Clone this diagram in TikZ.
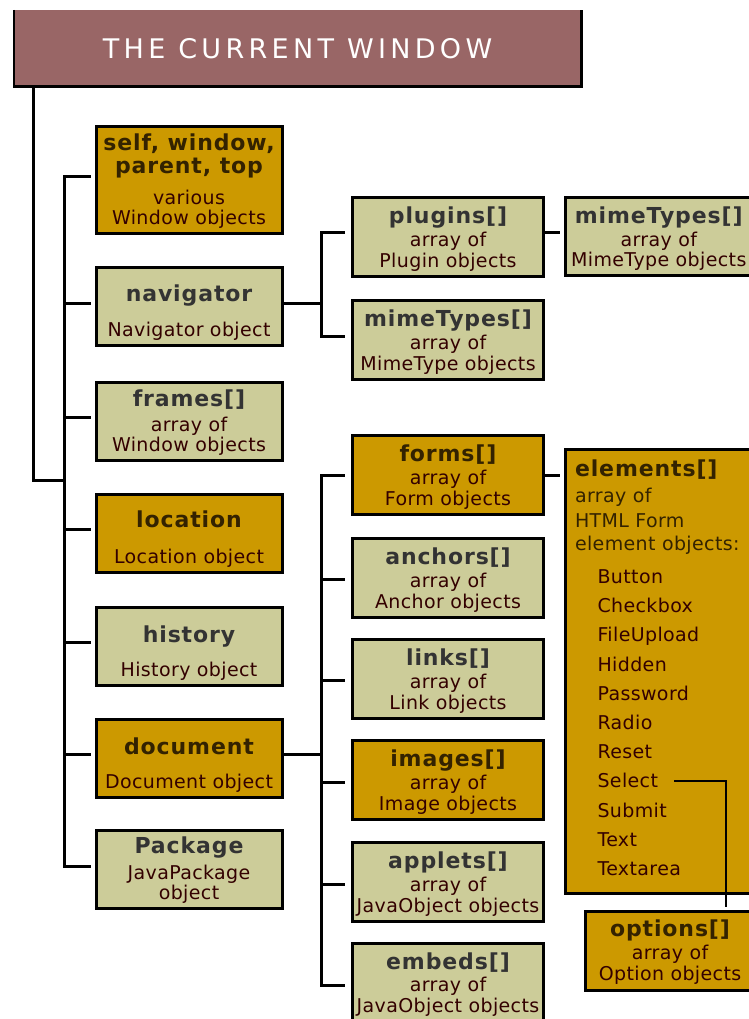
\documentclass[tikz,border=0pt]{standalone}
\usepackage{fontspec}
\setmainfont{DejaVu Sans}
\newfontfamily\titlefont{DejaVu Sans}[LetterSpace=16]
\newfontfamily\headfont{DejaVu Sans}[LetterSpace=4]
\newfontfamily\bodyfont{DejaVu Sans}[LetterSpace=2]
\definecolor{gold}{HTML}{CC9900}
\definecolor{khaki}{HTML}{CCCC99}
\definecolor{rose}{HTML}{996666}
\definecolor{inkgray}{HTML}{333333}
\definecolor{inkbrown}{HTML}{332200}
\definecolor{inkred}{HTML}{330000}
\newcommand\hdK[1]{{\headfont\bfseries\fontsize{22}{24}\selectfont\color{inkgray}#1}}
\newcommand\hdG[1]{{\headfont\bfseries\fontsize{22}{24}\selectfont\color{inkbrown}#1}}
\newcommand\bdR[1]{{\bodyfont\fontsize{19}{20}\selectfont\color{inkred}#1}}
\newcommand\bdB[1]{{\bodyfont\fontsize{19}{20}\selectfont\color{inkbrown}#1}}
\newcommand\lnC[2]{\vtop to 0pt{\vskip#1\hbox to\hsize{\hss\smash{#2}\hss}\vss}}
\newcommand\lnL[3]{\vtop to 0pt{\vskip#2\hbox to\hsize{\hskip#1\smash{#3}\hss}\vss}}
\newcommand\boxtxt[3]{\vbox to#2{\hsize=#1\offinterlineskip#3\vss}}
\tikzset{
  box/.style={draw=black, line width=3pt, inner sep=0pt, outer sep=0pt},
  kbox/.style={box, fill=khaki},
  gbox/.style={box, fill=gold},
  conn/.style={line width=3pt, line cap=rect},
  titlebox/.style={fill=rose, inner sep=0pt, outer sep=0pt, minimum width=567.5pt,
    minimum height=76.7pt, text=white, font=\titlefont\fontsize{27}{30}\selectfont},
}
\begin{document}
\begin{tikzpicture}[x=1pt,y=-1pt]
\useasboundingbox (0,0) rectangle (748,1019);
\fill[white] (0,0) rectangle (748,1019);

% title
\node[titlebox] (title) at (297.55,48.35) {THE CURRENT WINDOW};
\draw[line width=2.5pt] (title.north west) |- (title.south east) -- (title.north east);

% left column
\node[gbox] (self) at (189,180) {\boxtxt{186pt}{106pt}{%
  \lnC{23.7pt}{\hdG{self, window,}}%
  \lnC{46.3pt}{\hdG{parent, top}}%
  \lnC{77.3pt}{\bdR{various}}%
  \lnC{97.3pt}{\bdR{Window objects}}}};
\node[kbox] (nav) at (189,306) {\boxtxt{186pt}{78pt}{%
  \lnC{34.5pt}{\hdK{navigator}}%
  \lnC{69.5pt}{\bdR{Navigator object}}}};
\node[kbox] (frames) at (189,421) {\boxtxt{186pt}{78pt}{%
  \lnC{24.5pt}{\hdK{frames[]}}%
  \lnC{49.5pt}{\bdR{array of}}%
  \lnC{69.5pt}{\bdR{Window objects}}}};
\node[gbox] (loc) at (189,533) {\boxtxt{186pt}{78pt}{%
  \lnC{33.5pt}{\hdG{location}}%
  \lnC{69.5pt}{\bdR{Location object}}}};
\node[kbox] (hist) at (189,646) {\boxtxt{186pt}{78pt}{%
  \lnC{35pt}{\hdK{history}}%
  \lnC{69pt}{\bdR{History object}}}};
\node[gbox] (doc) at (189,758) {\boxtxt{186pt}{78pt}{%
  \lnC{35pt}{\hdG{document}}%
  \lnC{69.5pt}{\bdR{Document object}}}};
\node[kbox] (pkg) at (189,869.5) {\boxtxt{186pt}{78pt}{%
  \lnC{22.5pt}{\hdK{Package}}%
  \lnC{49pt}{\bdR{JavaPackage}}%
  \lnC{69pt}{\bdR{object}}}};

% middle column
\node[kbox] (plug) at (448,236.5) {\boxtxt{191pt}{79pt}{%
  \lnC{26pt}{\hdK{plugins[]}}%
  \lnC{49.5pt}{\bdR{array of}}%
  \lnC{70pt}{\bdR{Plugin objects}}}};
\node[kbox] (mimeb) at (448,339.5) {\boxtxt{191pt}{79pt}{%
  \lnC{26pt}{\hdK{mimeTypes[]}}%
  \lnC{49.5pt}{\bdR{array of}}%
  \lnC{70pt}{\bdR{MimeType objects}}}};
\node[gbox] (forms) at (448,475) {\boxtxt{191pt}{79pt}{%
  \lnC{26pt}{\hdG{forms[]}}%
  \lnC{49pt}{\bdR{array of}}%
  \lnC{70pt}{\bdR{Form objects}}}};
\node[kbox] (anch) at (448,578) {\boxtxt{191pt}{79pt}{%
  \lnC{26pt}{\hdK{anchors[]}}%
  \lnC{49pt}{\bdR{array of}}%
  \lnC{70pt}{\bdR{Anchor objects}}}};
\node[kbox] (links) at (448,679) {\boxtxt{191pt}{79pt}{%
  \lnC{26pt}{\hdK{links[]}}%
  \lnC{49pt}{\bdR{array of}}%
  \lnC{70pt}{\bdR{Link objects}}}};
\node[gbox] (imgs) at (448,780) {\boxtxt{191pt}{79pt}{%
  \lnC{26pt}{\hdG{images[]}}%
  \lnC{49pt}{\bdR{array of}}%
  \lnC{70pt}{\bdR{Image objects}}}};
\node[kbox] (apps) at (448,881.5) {\boxtxt{191pt}{79pt}{%
  \lnC{26pt}{\hdK{applets[]}}%
  \lnC{49pt}{\bdR{array of}}%
  \lnC{70pt}{\bdR{JavaObject objects}}}};
\node[kbox] (embs) at (448,983.2) {\boxtxt{191pt}{79pt}{%
  \lnC{26pt}{\hdK{embeds[]}}%
  \lnC{48pt}{\bdR{array of}}%
  \lnC{69pt}{\bdR{JavaObject objects}}}};

% right column
\node[kbox] (mimea) at (658.75,236.25) {\boxtxt{186.5pt}{78.5pt}{%
  \lnC{26pt}{\hdK{mimeTypes[]}}%
  \lnC{49.5pt}{\bdR{array of}}%
  \lnC{69pt}{\bdR{MimeType objects}}}};
\node[gbox] (elem) at (660.75,671.25) {\boxtxt{190.5pt}{443.5pt}{%
  \lnL{9.5pt}{27pt}{\hdG{elements[]}}%
  \lnL{9.5pt}{53pt}{\bdB{array of}}%
  \lnL{9.5pt}{78pt}{\bdB{HTML Form}}%
  \lnL{9.5pt}{100.5pt}{\bdB{element objects:}}%
  \lnL{32pt}{134pt}{\bdR{Button}}%
  \lnL{32pt}{163.2pt}{\bdR{Checkbox}}%
  \lnL{32pt}{192.4pt}{\bdR{FileUpload}}%
  \lnL{32pt}{221.6pt}{\bdR{Hidden}}%
  \lnL{32pt}{250.8pt}{\bdR{Password}}%
  \lnL{32pt}{280pt}{\bdR{Radio}}%
  \lnL{32pt}{309.2pt}{\bdR{Reset}}%
  \lnL{32pt}{338.4pt}{\bdR{Select}}%
  \lnL{32pt}{367.6pt}{\bdR{Submit}}%
  \lnL{32pt}{396.8pt}{\bdR{Text}}%
  \lnL{32pt}{426pt}{\bdR{Textarea}}}};
\node[gbox] (opt) at (670,950.8) {\boxtxt{169pt}{79pt}{%
  \lnC{25.5pt}{\hdG{options[]}}%
  \lnC{48.5pt}{\bdR{array of}}%
  \lnC{69.5pt}{\bdR{Option objects}}}};

% main trunk
\coordinate (mainx) at (33.5,0);
\coordinate (busx) at (64.3,0);
\coordinate (join) at (64.3,480);
\draw[conn] (title.south -| mainx) |- (join);
\foreach \n/\s in {self/3,nav/3,frames/4,loc/4,hist/4,doc/4,pkg/3.5}{
  \coordinate (c\n) at ([yshift=\s pt]\n.west);
  \draw[conn, shorten >=7pt] (c\n -| busx) -- (c\n);
}
\draw[conn] (cself -| busx) -- (cpkg -| busx);

% navigator subtree
\coordinate (nbus) at (321,0);
\coordinate (cnavE) at ([yshift=3pt]nav.east);
\draw[conn] (cnavE) -- (cnavE -| nbus);
\coordinate (cplug) at ([yshift=4.2pt]plug.west);
\coordinate (cmimeb) at ([yshift=3.5pt]mimeb.west);
\draw[conn] (cplug -| nbus) -- (cmimeb -| nbus);
\draw[conn, shorten >=9pt] (cplug -| nbus) -- (cplug);
\draw[conn, shorten >=9pt] (cmimeb -| nbus) -- (cmimeb);
\coordinate (cplugE) at ([yshift=4.2pt]plug.east);
\draw[conn, shorten >=7.5pt] (cplugE) -- (cplugE -| mimea.west);

% document subtree
\coordinate (cdocE) at ([yshift=4pt]doc.east);
\draw[conn] (cdocE) -- (cdocE -| nbus);
\foreach \n/\s in {forms/0,anch/-1.3,links/-1,imgs/-2.5,apps/-2.8,embs/-2.5}{
  \coordinate (c\n) at ([yshift=\s pt]\n.west);
  \draw[conn, shorten >=9pt] (c\n -| nbus) -- (c\n);
}
\draw[conn] (cforms -| nbus) -- (cembs -| nbus);
\coordinate (cformsE) at ([yshift=-0.7pt]forms.east);
\draw[conn, shorten >=7.5pt] (cformsE) -- (cformsE -| elem.west);

% Select -> options
\coordinate (selend) at (674.3,780.7);
\coordinate (selturn) at (725.7,780.7);
\draw[line width=2pt, shorten >=4.6pt] (selend) -- (selturn) -- (selturn |- opt.north);
\end{tikzpicture}
\end{document}
